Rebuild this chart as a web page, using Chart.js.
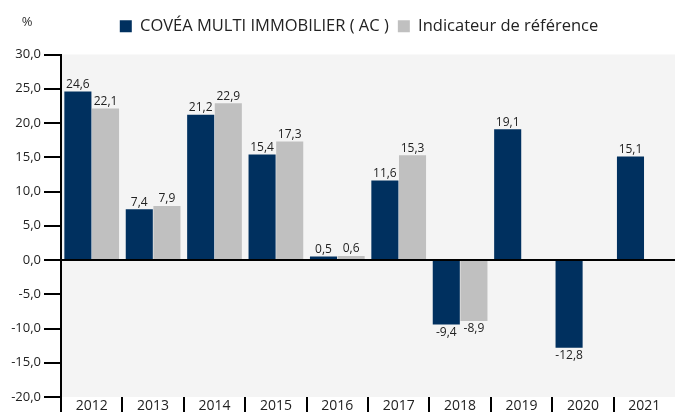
<!DOCTYPE html>
<html>
<head>
<meta charset="utf-8">
<script src="https://cdn.jsdelivr.net/npm/chart.js@4"></script>
<style>
  html, body { margin: 0; padding: 0; background: #fff; }
  #wrap { width: 675px; height: 412px; }
</style>
</head>
<body>
<div id="wrap"><canvas id="perfChart"></canvas></div>
<script>
// Years and yearly performance (%)
const years = ['2012', '2013', '2014', '2015', '2016', '2017', '2018', '2019', '2020', '2021'];
const fundPerf = [24.6, 7.4, 21.2, 15.4, 0.5, 11.6, -9.4, 19.1, -12.8, 15.1];
const benchPerf = [22.1, 7.9, 22.9, 17.3, 0.6, 15.3, -8.9, null, null, null];
const seriesNames = ['COVÉA MULTI IMMOBILIER ( AC )', 'Indicateur de référence'];

const navy = '#00305f';
const lightGrey = '#c0c0c0';
const fontFamily = '"Open Sans", "Noto Sans", sans-serif';

const fmt = v => v.toFixed(1).replace('.', ',');

// Light grey background behind the plot area
const plotBackground = {
  id: 'plotBackground',
  beforeDraw(chart) {
    const { ctx, chartArea } = chart;
    ctx.save();
    ctx.fillStyle = '#f4f4f4';
    ctx.fillRect(chartArea.left, chartArea.top, chartArea.right - chartArea.left, chartArea.bottom - chartArea.top);
    ctx.restore();
  }
};

// Extra room under the legend, and nudge it a little to the left
const legendSpacing = {
  id: 'legendSpacing',
  beforeInit(chart) {
    const origFit = chart.legend.fit;
    chart.legend.fit = function() {
      origFit.bind(chart.legend)();
      this.height += 10;
    };
  },
  afterLayout(chart) {
    chart.legend.left -= 9;
    chart.legend.right -= 9;
  }
};

// Separators between the year labels under the plot
const yearSeparators = {
  id: 'yearSeparators',
  afterDraw(chart) {
    const { ctx, chartArea } = chart;
    const xScale = chart.scales.x;
    const half = (xScale.getPixelForValue(1) - xScale.getPixelForValue(0)) / 2;
    ctx.save();
    ctx.strokeStyle = '#000';
    ctx.lineWidth = 2;
    years.forEach((y, i) => {
      const x = Math.round(xScale.getPixelForValue(i) - half);
      ctx.beginPath();
      ctx.moveTo(x, chartArea.bottom);
      ctx.lineTo(x, chart.height);
      ctx.stroke();
    });
    ctx.restore();
  }
};

// Value labels above / below the bars, plus the "%" unit
const valueLabels = {
  id: 'valueLabels',
  afterDatasetsDraw(chart) {
    const { ctx } = chart;
    ctx.save();
    ctx.font = '12px ' + fontFamily;
    ctx.fillStyle = '#222';
    ctx.textAlign = 'center';
    chart.data.datasets.forEach((ds, i) => {
      const meta = chart.getDatasetMeta(i);
      meta.data.forEach((bar, j) => {
        const v = ds.data[j];
        if (v === null || v === undefined) return;
        if (v >= 0) {
          ctx.textBaseline = 'bottom';
          ctx.fillText(fmt(v), bar.x, bar.y - 1);
        } else {
          ctx.textBaseline = 'top';
          ctx.fillText(fmt(v), bar.x, bar.y + 2);
        }
      });
    });
    ctx.font = '13px ' + fontFamily;
    ctx.fillStyle = '#333';
    ctx.textAlign = 'center';
    ctx.textBaseline = 'middle';
    ctx.fillText('%', 27, 22);
    ctx.restore();
  }
};

new Chart(document.getElementById('perfChart'), {
  type: 'bar',
  data: {
    labels: years,
    datasets: [
      {
        label: seriesNames[0],
        data: fundPerf,
        backgroundColor: navy,
        categoryPercentage: 0.9,
        barPercentage: 0.98
      },
      {
        label: seriesNames[1],
        data: benchPerf,
        backgroundColor: lightGrey,
        categoryPercentage: 0.9,
        barPercentage: 0.98
      }
    ]
  },
  options: {
    responsive: true,
    maintainAspectRatio: false,
    animation: false,
    layout: { padding: { left: 0, right: 0, top: 9, bottom: 0 } },
    scales: {
      x: {
        grid: { display: false, drawTicks: false },
        border: { display: false },
        ticks: {
          color: '#222',
          padding: 1,
          font: { family: fontFamily, size: 14 }
        },
        afterFit: scale => { scale.height = 15; }
      },
      y: {
        min: -20,
        max: 30,
        ticks: {
          stepSize: 5,
          color: '#222',
          padding: 3,
          font: { family: fontFamily, size: 13 },
          callback: v => fmt(v)
        },
        grid: {
          drawOnChartArea: true,
          lineWidth: 2,
          tickLength: 17,
          tickColor: '#000',
          color: c => (c.tick && c.tick.value === 0 ? '#000' : 'transparent')
        },
        border: { display: true, color: '#000', width: 2 },
        afterFit: scale => { scale.width = 61; }
      }
    },
    plugins: {
      legend: {
        display: true,
        position: 'top',
        fullSize: false,
        labels: {
          color: '#222',
          boxWidth: 12,
          boxHeight: 12,
          padding: 9,
          font: { family: fontFamily, size: 16.5 }
        }
      },
      tooltip: { enabled: false }
    }
  },
  plugins: [plotBackground, legendSpacing, yearSeparators, valueLabels]
});
</script>
</body>
</html>
